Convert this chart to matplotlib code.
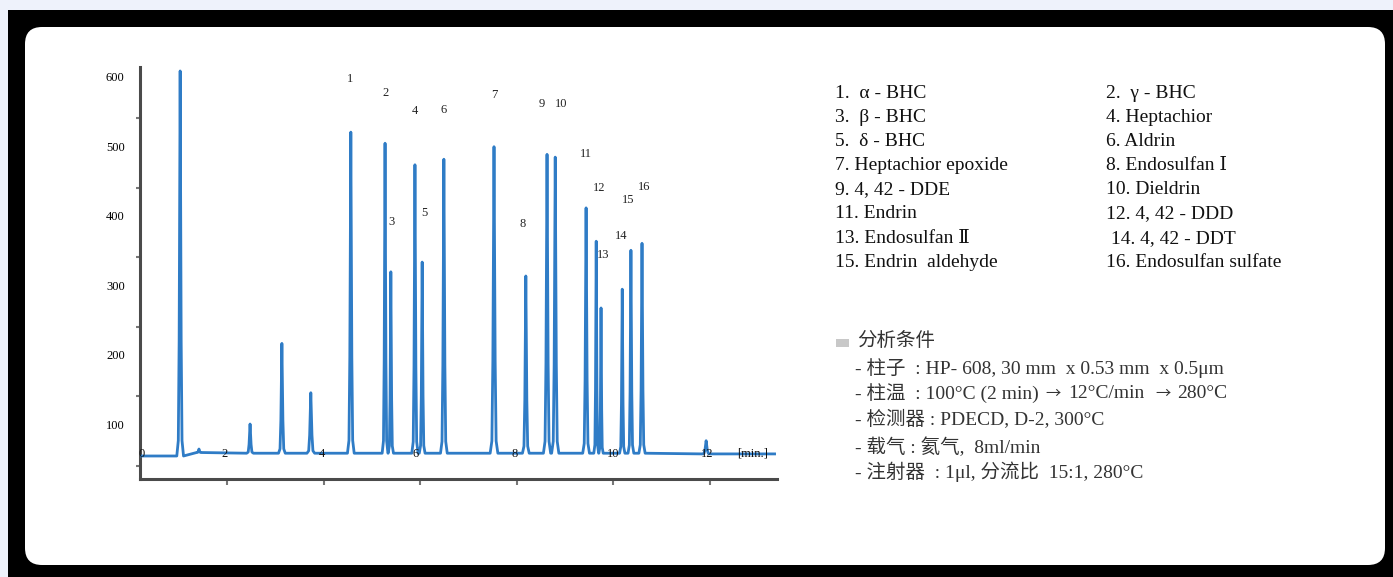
import numpy as np
import matplotlib
matplotlib.use("Agg")
import matplotlib.pyplot as plt
from matplotlib.patches import Rectangle, FancyBboxPatch
from matplotlib.transforms import IdentityTransform

# ---------------- data ----------------
# chromatogram peaks: retention time (min), apex signal, half width at base (min)
peak_rt = [1.02, 1.41, 2.47, 3.13, 3.73, 4.56, 5.27, 5.39, 5.89, 6.04, 6.49,
           7.53, 8.19, 8.63, 8.80, 9.44, 9.65, 9.75, 10.19, 10.37, 10.60, 11.93]
peak_height = [608, 64, 100, 216, 145, 520, 504, 319, 473, 333, 481,
               499, 313, 488, 484, 411, 363, 267, 294, 350, 360, 76]
peak_halfwidth = [0.07, 0.05, 0.07, 0.07, 0.08, 0.07, 0.06, 0.055, 0.065, 0.06, 0.07,
                  0.08, 0.07, 0.075, 0.075, 0.07, 0.05, 0.045, 0.055, 0.06, 0.065, 0.08]
peak_base = [54, 59, 58, 58, 58, 58, 58, 58, 58, 58, 58,
             58, 58, 58, 58, 58, 58, 58, 58, 58, 58, 57]
trace_start = (0.19, 54)
trace_end = (13.35, 57)

# peak number labels (text positions in data units)
peak_labels = [str(i) for i in range(1, 17)]
label_t = [4.54, 5.29, 5.41, 5.89, 6.08, 6.49, 7.53, 8.13, 8.51, 8.92,
           9.44, 9.71, 9.79, 10.17, 10.31, 10.64]
label_v = [596, 577, 390, 550, 403, 552, 574, 388, 561, 561,
           489, 440, 343, 370, 422, 441]

# axis labels
y_label_values = [100, 200, 300, 400, 500, 600]
y_minor_ticks = [40, 140, 240, 340, 440, 540]
x_tick_values = [2, 4, 6, 8, 10, 12]
x_label_text = ["0", "2", "4", "6", "8", "10", "12", "[min.]"]
x_label_pos = [0.23, 1.95, 3.96, 5.91, 7.95, 10.0, 11.95, 12.9]

# compound legend
compounds_left = ["1.  α - BHC", "3.  β - BHC", "5.  δ - BHC", "7. Heptachior epoxide",
                  "9. 4, 42 - DDE", "11. Endrin", "13. Endosulfan Ⅱ", "15. Endrin  aldehyde"]
compounds_right = ["2.  γ - BHC", "4. Heptachior", "6. Aldrin", "8. Endosulfan Ⅰ",
                   "10. Dieldrin", "12. 4, 42 - DDD", " 14. 4, 42 - DDT", "16. Endosulfan sulfate"]
cond_title = "分析条件"
cond_lines = ["- 柱子  : HP- 608, 30 mm  x 0.53 mm  x 0.5μm",
              "- 柱温  : 100°C (2 min) → 12°C/min  → 280°C",
              "- 检测器 : PDECD, D-2, 300°C",
              "- 载气 : 氦气,  8ml/min",
              "- 注射器  : 1μl, 分流比  15:1, 280°C"]

# ---------------- figure ----------------
W, H = 1393, 577
fig = plt.figure(figsize=(W / 100, H / 100), dpi=100)
fig.patch.set_facecolor("#eef2fb")

fig.patches.append(Rectangle((8, 0), W - 8, H - 10, transform=IdentityTransform(),
                             facecolor="black", edgecolor="none", zorder=0))
fig.patches.append(FancyBboxPatch((25, 12), 1385 - 25, 550 - 12,
                                  boxstyle="round,pad=0,rounding_size=17",
                                  transform=IdentityTransform(),
                                  facecolor="white", edgecolor="none", zorder=1))

serif = ["Liberation Serif", "DejaVu Serif", "Noto Sans CJK SC"]
cjk = ["Liberation Serif", "Noto Sans CJK SC", "DejaVu Sans"]

ax = fig.add_axes([140 / W, (H - 479) / H, (777 - 140) / W, (479 - 67) / H])
ax.set_facecolor("none")
ax.set_zorder(5)

# build chromatogram trace from peak table
tt = [trace_start[0]]
vv = [trace_start[1]]
for rt, h, hw, b in zip(peak_rt, peak_height, peak_halfwidth, peak_base):
    tt += [rt - hw, rt - hw * 0.55, rt - hw * 0.3, rt, rt + hw * 0.3, rt + hw * 0.55, rt + hw]
    vv += [b, b + (h - b) * 0.04, b + (h - b) * 0.3, h, b + (h - b) * 0.3, b + (h - b) * 0.04, b]
tt.append(trace_end[0])
vv.append(trace_end[1])
ax.plot(tt, vv, color="#2f7cc6", lw=2.0, solid_joinstyle="round", zorder=3)

ax.set_xlim(0.187, 13.40)
ax.set_ylim(20.9, 613.7)
for s in ["top", "right"]:
    ax.spines[s].set_visible(False)
for s in ["left", "bottom"]:
    ax.spines[s].set_color("#4a4a4a")
    ax.spines[s].set_linewidth(2.2)

ax.set_yticks(y_label_values)
ax.set_yticklabels([str(v) for v in y_label_values], family=serif, fontsize=9)
ax.set_yticks(y_minor_ticks, minor=True)
ax.tick_params(axis="y", which="major", length=0, pad=11)
ax.tick_params(axis="y", which="minor", length=3, width=1.5, color="#777777")
ax.set_xticks(x_tick_values)
ax.set_xticklabels([])
ax.tick_params(axis="x", which="major", length=4, width=1.5, color="#777777")

for txt, xp in zip(x_label_text, x_label_pos):
    ax.text(xp, 57, txt, ha="center", va="center", family=serif, fontsize=9,
            color="#111111", zorder=4)

for lab, lt, lv in zip(peak_labels, label_t, label_v):
    ax.text(lt, lv, lab, ha="center", va="center", family=serif, fontsize=9,
            color="#222222", zorder=4)

# compound list
row0 = 93
dy = 24.2
for i, (l, r) in enumerate(zip(compounds_left, compounds_right)):
    y = (H - (row0 + i * dy)) / H
    fig.text(835 / W, y, l, ha="left", va="center", family=serif, fontsize=14, color="#111111")
    fig.text(1106 / W, y, r, ha="left", va="center", family=serif, fontsize=14, color="#111111")

# analysis conditions
fig.patches.append(Rectangle((836, H - 347), 13, 8, transform=IdentityTransform(),
                             facecolor="#c8c8c8", edgecolor="none", zorder=2))
fig.text(857 / W, (H - 341) / H, cond_title, ha="left", va="center", family=cjk,
         fontsize=14, color="#333333")
cond_y = [368, 393, 420, 447, 472]
arrow_family = ["Noto Sans CJK SC", "DejaVu Sans"]
for line, yy in zip(cond_lines, cond_y):
    if "→" not in line:
        fig.text(855 / W, (H - yy) / H, line, ha="left", va="center", family=cjk,
                 fontsize=14, color="#333333")
        continue
    parts = [p.strip() for p in line.split("→")]
    prev = fig.text(855 / W, (H - yy) / H, parts[0], ha="left", va="center",
                    family=cjk, fontsize=14, color="#333333")
    for k, p in enumerate(parts[1:]):
        gap = 5 if k == 0 else 8
        arr = ax.annotate("→", xy=(1, 0.5), xycoords=prev, xytext=(gap, 0),
                          textcoords="offset points", ha="left", va="center",
                          family=arrow_family, fontsize=11, color="#333333",
                          annotation_clip=False)
        prev = ax.annotate(p, xy=(1, 0.5), xycoords=arr, xytext=(5, 0),
                           textcoords="offset points", ha="left", va="center",
                           family=cjk, fontsize=14, color="#333333",
                           annotation_clip=False)

fig.savefig("out.png", dpi=100, facecolor=fig.get_facecolor())
